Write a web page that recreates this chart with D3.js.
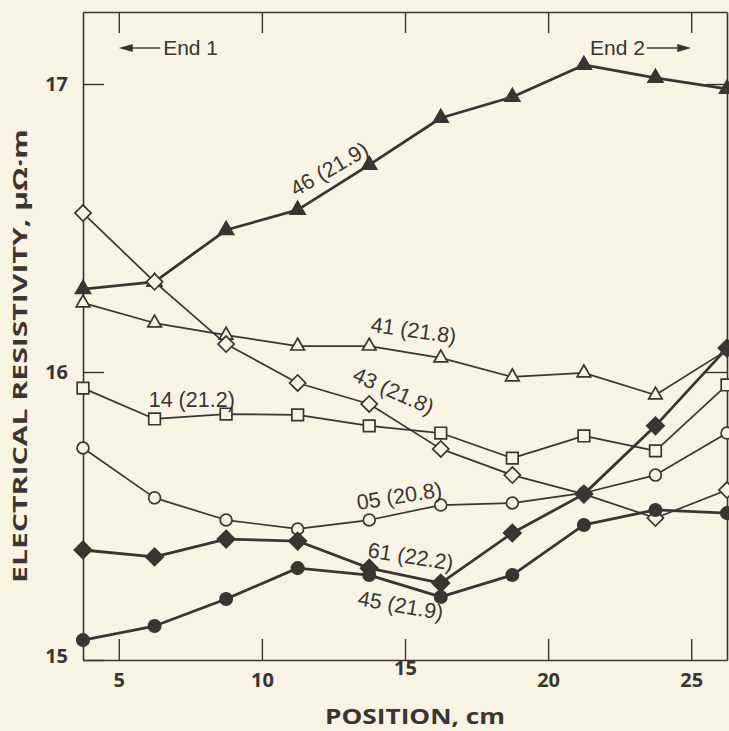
<!DOCTYPE html>
<html>
<head>
<meta charset="utf-8">
<script src="https://cdn.jsdelivr.net/npm/d3@7"></script>
<style>
  html, body { margin: 0; padding: 0; background: #f8f4e4; }
  svg { display: block; }
</style>
</head>
<body>
<svg id="chart" width="729" height="731"></svg>
<script>
// ---------------- data ----------------
const positions = [3.75, 6.25, 8.75, 11.25, 13.75, 16.25, 18.75, 21.25, 23.75, 26.25];
const seriesNames = ["46 (21.9)", "41 (21.8)", "43 (21.8)", "14 (21.2)", "05 (20.8)", "61 (22.2)", "45 (21.9)"];
const s46 = [16.288, 16.313, 16.493, 16.563, 16.719, 16.882, 16.955, 17.066, 17.021, 16.983];
const s41 = [16.240, 16.170, 16.128, 16.090, 16.090, 16.049, 15.983, 15.997, 15.920, 16.076];
const s43 = [16.552, 16.313, 16.097, 15.962, 15.889, 15.733, 15.642, 15.576, 15.493, 15.590];
const s14 = [15.944, 15.837, 15.854, 15.851, 15.813, 15.788, 15.701, 15.778, 15.726, 15.955];
const s05 = [15.736, 15.563, 15.486, 15.455, 15.486, 15.538, 15.545, 15.580, 15.642, 15.788];
const s61 = [15.382, 15.358, 15.420, 15.413, 15.319, 15.267, 15.441, 15.576, 15.813, 16.083];
const s45 = [15.069, 15.118, 15.212, 15.319, 15.295, 15.219, 15.295, 15.469, 15.521, 15.510];
const xTicks = [5, 10, 15, 20, 25];
const yTicks = [15, 16, 17];
const xTitle = "POSITION, cm";
const yTitle = "ELECTRICAL RESISTIVITY, \u00B5\u03A9\u00B7m";
const endLabels = ["End 1", "End 2"];

// ---------------- styles / layout ----------------
const ink = "#3a3531";
const bg = "#f8f4e4";
const svg = d3.select("#chart");
svg.append("rect").attr("width", 729).attr("height", 731).attr("fill", bg);

const L = 83, R = 727, T = 12, B = 660;
const x = d3.scaleLinear().domain([3.75, 26.25]).range([L, R]);
const y = d3.scaleLinear().domain([15, 17.25]).range([B, T]);

const seriesValues = [s46, s41, s43, s14, s05, s61, s45];
const seriesStyle = [
  {sym: "tri", fill: true, thick: true},
  {sym: "tri", fill: false, thick: false},
  {sym: "dia", fill: false, thick: false},
  {sym: "sq", fill: false, thick: false},
  {sym: "cir", fill: false, thick: false},
  {sym: "dia", fill: true, thick: true},
  {sym: "cir", fill: true, thick: true}
];
// label placement: [x in cm, y in data units, rotation deg]
const labelPlace = [
  [12.35, 16.705, -30],
  [15.3, 16.145, 8],
  [14.6, 15.935, 24],
  [7.55, 15.905, 0],
  [14.8, 15.57, -9],
  [15.2, 15.36, 9],
  [14.85, 15.19, 10]
];

const fontBold = "'Open Sans', 'DejaVu Sans', sans-serif";
const fontReg = "'Liberation Sans', Arial, sans-serif";

// ---------------- axes (frame) ----------------
function styleAxis(g) {
  g.selectAll("path.domain").attr("stroke", ink).attr("stroke-width", 1.6);
  g.selectAll(".tick line").attr("stroke", ink).attr("stroke-width", 1.4);
  g.selectAll(".tick text").attr("fill", ink)
    .attr("font-family", fontBold).attr("font-weight", 700).attr("font-size", 20);
}
svg.append("g").attr("transform", `translate(0,${B})`)
  .call(d3.axisBottom(x).tickValues(xTicks).tickSizeInner(-21).tickSizeOuter(0).tickPadding(13).tickFormat(d3.format("d")))
  .call(styleAxis);
svg.append("g").attr("transform", `translate(0,${T})`)
  .call(d3.axisTop(x).tickValues(xTicks).tickSizeInner(-21).tickSizeOuter(0).tickFormat(""))
  .call(styleAxis);
svg.append("g").attr("transform", `translate(${L},0)`)
  .call(d3.axisLeft(y).tickValues(yTicks).tickSizeInner(-21).tickSizeOuter(0).tickPadding(15).tickFormat(d3.format("d")))
  .call(styleAxis);
svg.append("g").attr("transform", `translate(${R},0)`)
  .call(d3.axisRight(y).tickValues([16, 17]).tickSizeInner(-21).tickSizeOuter(0).tickFormat(""))
  .call(styleAxis);
svg.selectAll(".tick text").filter(d => d === 15).attr("dy", "0.1em");

// ---------------- titles ----------------
svg.append("text").attr("x", 415).attr("y", 724).attr("text-anchor", "middle")
  .attr("font-family", fontBold).attr("font-weight", 700).attr("font-size", 21)
  .attr("fill", ink).attr("textLength", 180).attr("lengthAdjust", "spacingAndGlyphs").text(xTitle);
svg.append("text").attr("transform", "translate(27,356) rotate(-90)").attr("text-anchor", "middle")
  .attr("font-family", fontBold).attr("font-weight", 700).attr("font-size", 20)
  .attr("fill", ink).attr("textLength", 454).attr("lengthAdjust", "spacingAndGlyphs").text(yTitle);

// ---------------- End annotations ----------------
const endG = svg.append("g").attr("fill", ink);
endG.append("line").attr("x1", x(5) + 12).attr("x2", x(6.45)).attr("y1", 48).attr("y2", 48)
  .attr("stroke", ink).attr("stroke-width", 1.4);
endG.append("path").attr("d", `M${x(5)},48 L${x(5) + 14},44 L${x(5) + 14},52 Z`);
endG.append("text").attr("x", x(6.55)).attr("y", 55).attr("font-family", fontReg)
  .attr("font-size", 21).text(endLabels[0]);
endG.append("line").attr("x1", x(23.45)).attr("x2", x(25) - 12).attr("y1", 48).attr("y2", 48)
  .attr("stroke", ink).attr("stroke-width", 1.4);
endG.append("path").attr("d", `M${x(25)},48 L${x(25) - 14},44 L${x(25) - 14},52 Z`);
endG.append("text").attr("x", x(23.38)).attr("y", 55).attr("text-anchor", "end").attr("font-family", fontReg)
  .attr("font-size", 21).text(endLabels[1]);

// ---------------- lines ----------------
const line = d3.line().x((d, i) => x(positions[i])).y(d => y(d));
seriesValues.forEach((vals, k) => {
  svg.append("path").datum(vals).attr("d", line).attr("fill", "none")
    .attr("stroke", ink).attr("stroke-width", seriesStyle[k].thick ? 2.8 : 1.7)
    .attr("stroke-linejoin", "round");
});

// ---------------- markers ----------------
function symPath(s, filled) {
  if (s === "tri") return d3.symbol(d3.symbolTriangle, filled ? 95 : 80)();
  if (s === "sq") return d3.symbol(d3.symbolSquare, 135)();
  if (s === "cir") return d3.symbol(d3.symbolCircle, filled ? 120 : 110)();
  return d3.symbol(d3.symbolSquare, filled ? 150 : 130)();
}
seriesValues.forEach((vals, k) => {
  const st = seriesStyle[k];
  svg.append("g").selectAll("path").data(vals).join("path")
    .attr("d", symPath(st.sym, st.fill))
    .attr("transform", (d, i) => `translate(${x(positions[i])},${y(d)})` + (st.sym === "dia" ? " rotate(45)" : ""))
    .attr("fill", st.fill ? ink : bg)
    .attr("stroke", ink).attr("stroke-width", 1.7);
});

// ---------------- series labels ----------------
seriesNames.forEach((name, k) => {
  const p = labelPlace[k];
  svg.append("text")
    .attr("transform", `translate(${x(p[0])},${y(p[1])}) rotate(${p[2]})`)
    .attr("text-anchor", "middle").attr("dy", "0.35em")
    .attr("font-family", fontReg).attr("font-size", 21.5).attr("fill", ink)
    .text(name);
});
</script>
</body>
</html>
